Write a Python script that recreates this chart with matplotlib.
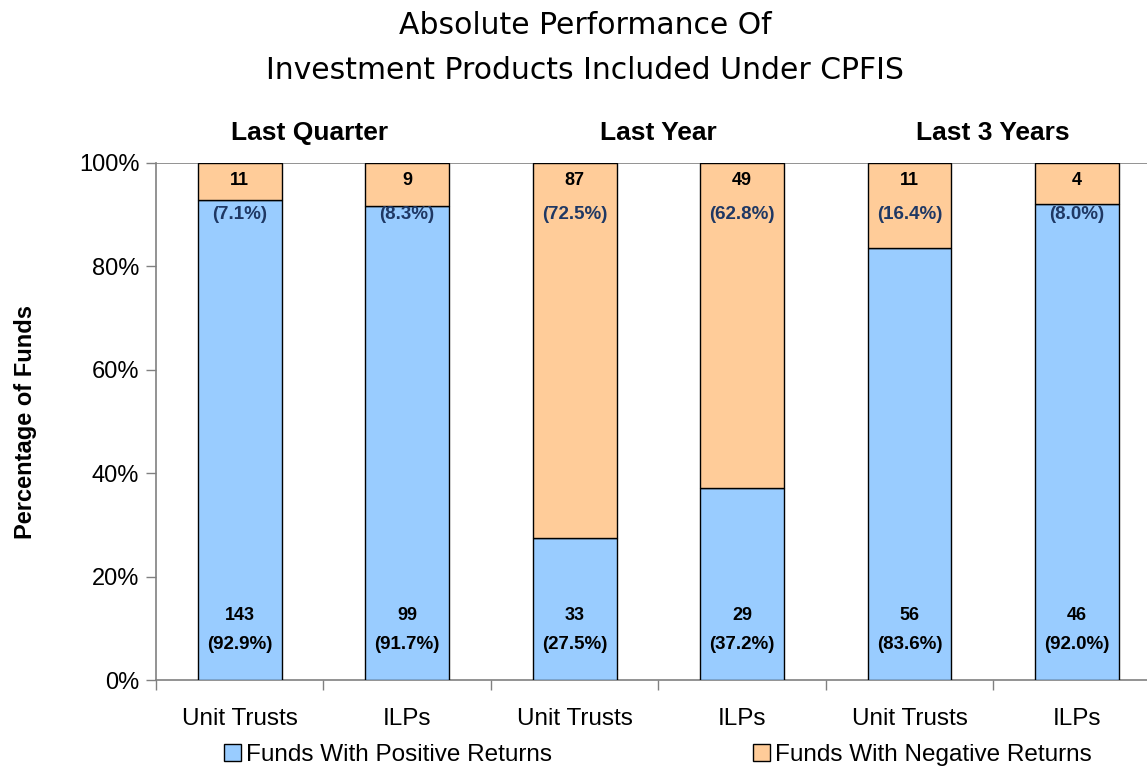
import numpy as np
import matplotlib.pyplot as plt

# data
groups = ['Last Quarter', 'Last Year', 'Last 3 Years']
products = ['Unit Trusts', 'ILPs', 'Unit Trusts', 'ILPs', 'Unit Trusts', 'ILPs']
pos_pct = [92.9, 91.7, 27.5, 37.2, 83.6, 92.0]
neg_pct = [7.1, 8.3, 72.5, 62.8, 16.4, 8.0]
pos_cnt = [143, 99, 33, 29, 56, 46]
neg_cnt = [11, 9, 87, 49, 11, 4]

blue = '#99CCFF'
orange = '#FFCC99'
navy = '#1F3864'

plt.rcParams['font.family'] = ['Liberation Sans', 'DejaVu Sans']

fig = plt.figure(figsize=(11.47, 7.67), dpi=100)
ax = fig.add_axes([0.136, 0.1134, 0.876, 0.6741])

x = np.arange(len(products))
ax.bar(x, pos_pct, width=0.5, color=blue, edgecolor='black', linewidth=1,
       label='Funds With Positive Returns', zorder=3)
ax.bar(x, neg_pct, width=0.5, bottom=pos_pct, color=orange, edgecolor='black',
       linewidth=1, label='Funds With Negative Returns', zorder=3)

for i in x:
    ax.text(i, 96.7, str(neg_cnt[i]), ha='center', va='center',
            fontsize=13, fontweight='bold', zorder=4)
    ax.text(i, 90.0, '(%.1f%%)' % neg_pct[i], ha='center', va='center',
            fontsize=13.5, fontweight='bold', color=navy, zorder=4)
    ax.text(i, 12.4, str(pos_cnt[i]), ha='center', va='center',
            fontsize=13, fontweight='bold', zorder=4)
    ax.text(i, 6.8, '(%.1f%%)' % pos_pct[i], ha='center', va='center',
            fontsize=13.5, fontweight='bold', zorder=4)

for g, name in enumerate(groups):
    ax.text(2 * g + 0.5 - (0.08 if g == 0 else 0), 105.8, name, ha='center',
            va='center', fontsize=19, fontweight='bold')

ax.set_xlim(-0.5, len(products) - 0.5)
ax.set_ylim(0, 100)
ax.set_yticks(np.arange(0, 101, 20))
ax.set_yticklabels(['%d%%' % v for v in range(0, 101, 20)], fontsize=17)
ax.set_xticks(x)
ax.set_xticklabels(products, fontsize=17.5)
ax.set_xticks(np.arange(-0.5, len(products), 1), minor=True)
ax.tick_params(axis='x', which='major', length=0, pad=20)
ax.tick_params(axis='x', which='minor', length=7, color='#808080', width=1)
ax.tick_params(axis='y', length=7, color='#808080', width=1, pad=5)

ax.axhline(100, color='#808080', linewidth=1.2, zorder=2)
for s in ['top', 'right']:
    ax.spines[s].set_visible(False)
for s in ['left', 'bottom']:
    ax.spines[s].set_color('#808080')
    ax.spines[s].set_linewidth(1.2)

ax.set_ylabel('Percentage of Funds', fontsize=17, fontweight='bold', labelpad=30)

fig.text(0.51, 0.967, 'Absolute Performance Of', ha='center', va='center',
         fontsize=21.5, family='DejaVu Sans')
fig.text(0.51, 0.908, 'Investment Products Included Under CPFIS', ha='center',
         va='center', fontsize=21.5, family='DejaVu Sans')

leg = fig.legend(loc='center', bbox_to_anchor=(0.5735, 0.016), ncol=2, frameon=False,
                 fontsize=17.5, handlelength=0.7, handleheight=0.7, handletextpad=0.2,
                 columnspacing=8.3, borderaxespad=0)

fig.savefig('out.png', dpi=100)
